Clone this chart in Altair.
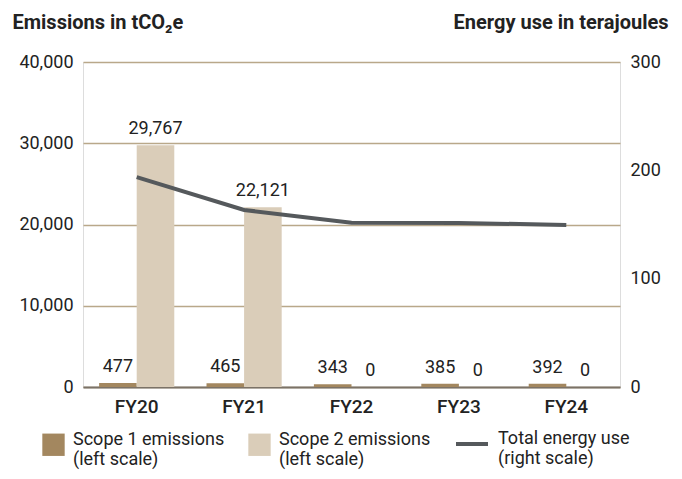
import altair as alt
import pandas as pd

years = ["FY20", "FY21", "FY22", "FY23", "FY24"]
series_names = ["Scope 1 emissions", "Scope 2 emissions"]
scope1 = [477, 465, 343, 385, 392]
scope2 = [29767, 22121, 0, 0, 0]
energy = [193.8, 163.4, 151.7, 151.5, 149.5]
energy_name = "Total energy use"

FONT = "Roboto, Open Sans, sans-serif"
C1 = "#a3875f"
C2 = "#dacdb9"
CL = "#55595c"
GRID = "#b9a88a"
TXT = "#222222"

rows = []
for i, y in enumerate(years):
    rows.append({"year": y, "series": series_names[0], "value": scope1[i]})
    rows.append({"year": y, "series": series_names[1], "value": scope2[i]})
df = pd.DataFrame(rows)
df_e = pd.DataFrame({"year": years, "energy": energy, "name": [energy_name] * len(years)})

x_enc = alt.X(
    "year:N", sort=years, title=None,
    scale=alt.Scale(paddingInner=0.3, paddingOuter=0.15),
    axis=alt.Axis(labelAngle=0, labelFontSize=19, labelFontWeight=500, labelPadding=10,
                  labelColor=TXT, labelFont=FONT, domainColor="#7b7267", domainWidth=2,
                  ticks=False),
)
xoff = alt.XOffset("series:N", sort=series_names, scale=alt.Scale(paddingInner=0))
y_scale = alt.Scale(domain=[0, 40000])

bars = alt.Chart(df).mark_bar().encode(
    x=x_enc,
    xOffset=xoff,
    y=alt.Y("value:Q", scale=y_scale,
            axis=alt.Axis(values=[0, 10000, 20000, 30000, 40000],
                          labelExpr="format(datum.value, ',')",
                          labelFontSize=18, labelPadding=10, labelColor=TXT, labelFont=FONT,
                          ticks=False, domain=False, grid=True, gridColor=GRID, gridWidth=1.5,
                          title="Emissions in tCO\u2082e", titleAngle=0, titleAlign="left",
                          titleBaseline="middle", titleX=-71, titleY=-40, titleFontSize=20,
                          titleFont=FONT, titleFontWeight="bold", titleColor=TXT)),
    color=alt.Color("series:N", sort=series_names,
                    scale=alt.Scale(domain=series_names, range=[C1, C2]),
                    legend=alt.Legend(title=None, orient="none", legendX=-41, legendY=371,
                                      direction="horizontal", columns=2, symbolType="square",
                                      symbolSize=500, symbolStrokeWidth=0, labelFontSize=18,
                                      labelFont=FONT, labelColor=TXT, labelOffset=8,
                                      columnPadding=23, labelBaseline="alphabetic",
                                      labelExpr="[datum.label, '(left scale)']")),
)

labels = alt.Chart(df).mark_text(dy=-7, fontSize=18, font=FONT, color=TXT, baseline="bottom").encode(
    x=alt.X("year:N", sort=years),
    xOffset=xoff,
    y=alt.Y("value:Q", scale=y_scale),
    text=alt.Text("value:Q", format=","),
)

line = alt.Chart(df_e).mark_line(strokeWidth=4, strokeCap="butt").encode(
    x=alt.X("year:N", sort=years),
    y=alt.Y("energy:Q", scale=alt.Scale(domain=[0, 300]),
            axis=alt.Axis(orient="right", values=[0, 100, 200, 300], labelFontSize=18,
                          labelPadding=10, labelColor=TXT, labelFont=FONT, ticks=False,
                          domain=False, grid=False,
                          title="Energy use in terajoules", titleAngle=0, titleAlign="right",
                          titleBaseline="middle", titleX=48, titleY=-40, titleFontSize=20,
                          titleFont=FONT, titleFontWeight="bold", titleColor=TXT)),
    stroke=alt.Stroke("name:N", scale=alt.Scale(domain=[energy_name], range=[CL]),
                      legend=alt.Legend(title=None, orient="none", legendX=371, legendY=364,
                                        symbolType="stroke", symbolSize=1024, symbolStrokeWidth=4,
                                        labelFontSize=18, labelFont=FONT, labelColor=TXT,
                                        labelOffset=8, labelBaseline="alphabetic",
                                        labelExpr="[datum.label, '(right scale)']")),
)

chart = alt.layer(alt.layer(bars, labels), line).resolve_scale(
    y="independent", color="independent"
).properties(
    width=537, height=325,
    autosize=alt.AutoSizeParams(type="none"),
    padding={"left": 75, "top": 54, "right": 54, "bottom": 84},
).configure_view(stroke=None).configure(font=FONT)

chart.save("out.html", embed_options={"renderer": "svg", "actions": False})
